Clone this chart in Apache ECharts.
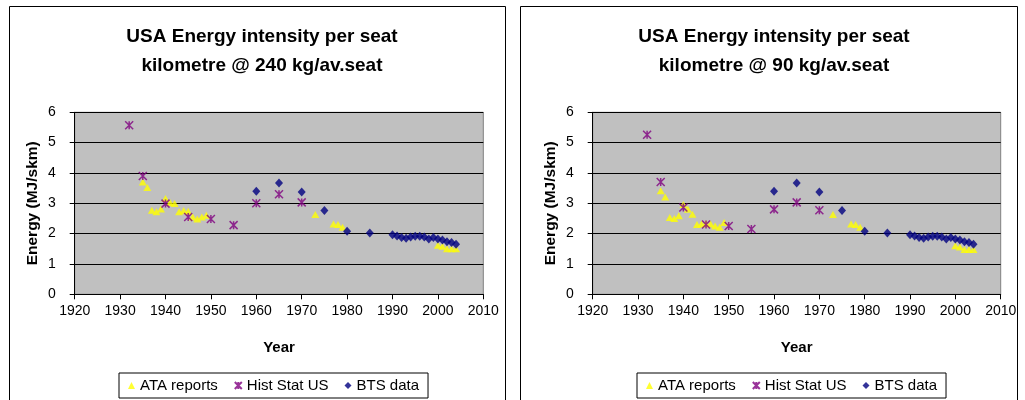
<!DOCTYPE html>
<html>
<head>
<meta charset="utf-8">
<script src="https://cdn.jsdelivr.net/npm/echarts@6/dist/echarts.min.js"></script>
<style>
html,body{margin:0;padding:0;background:#fff;}
#c{width:1025px;height:400px;}
</style>
</head>
<body>
<div id="c"></div>
<script>
// ---------- data ----------
var titles = ['USA Energy intensity per seat\nkilometre @ 240 kg/av.seat',
              'USA Energy intensity per seat\nkilometre @ 90 kg/av.seat'];
var seriesNames = ['ATA reports', 'Hist Stat US', 'BTS data'];
var xTitle = 'Year';
var yTitle = 'Energy (MJ/skm)';

var ataYears = [1935,1936,1937,1938,1939,1940,1941,1942,1943,1944,1945,1946,1947,1948,1949,1973,1977,1978,1979,2000,2001,2002,2003,2004];
var ata240 = [3.70,3.52,2.77,2.72,2.81,3.16,3.03,2.99,2.72,2.76,2.74,2.55,2.48,2.55,2.61,2.63,2.32,2.30,2.21,1.62,1.58,1.50,1.50,1.50];
var ata90  = [3.41,3.21,2.53,2.50,2.59,2.96,2.80,2.64,2.30,2.32,2.33,2.32,2.25,2.21,2.37,2.63,2.32,2.30,2.21,1.60,1.56,1.48,1.48,1.48];

var histYears = [1932,1935,1940,1945,1950,1955,1960,1965,1970];
var hist240 = [5.57,3.90,2.99,2.55,2.48,2.28,3.00,3.30,3.03];
var hist90  = [5.26,3.70,2.86,2.30,2.25,2.15,2.80,3.03,2.77];

var btsYears = [1960,1965,1970,1975,1980,1985,1990,1991,1992,1993,1994,1995,1996,1997,1998,1999,2000,2001,2002,2003,2004];
var btsVals  = [3.40,3.67,3.37,2.76,2.08,2.02,1.96,1.92,1.87,1.85,1.89,1.91,1.91,1.89,1.82,1.87,1.82,1.79,1.73,1.71,1.65];

// ---------- build ----------
function pairs(xs, ys){ return xs.map(function(x,i){ return [x, ys[i]]; }); }

var FONT = 'Liberation Sans, Arial, sans-serif';
var crossPath = 'path://M0,0L10,10M10,0L0,10M5,0L5,10';

var panels = [
  {cx: 257, left: 74.7, width: 408.6, ata: ata240, hist: hist240, legendLeft: 119},
  {cx: 769, left: 592.7, width: 408, ata: ata90, hist: hist90, legendLeft: 637}
];

var option = {
  backgroundColor: '#fff',
  animation: false,
  title: [], grid: [], xAxis: [], yAxis: [], legend: [], series: [],
  graphic: [
    {type:'rect', shape:{x:9.5, y:6.5, width:496, height:420}, style:{fill:'none', stroke:'#000', lineWidth:1}, silent:true},
    {type:'rect', shape:{x:520.5, y:6.5, width:497, height:420}, style:{fill:'none', stroke:'#000', lineWidth:1}, silent:true}
  ]
};

panels.forEach(function(p, i){
  option.title.push({
    text: titles[i], left: p.cx, top: 17, textAlign: 'center',
    textStyle: {fontFamily: FONT, fontSize: 19, fontWeight: 'bold', color: '#000', lineHeight: 29}
  });
  option.grid.push({
    left: p.left, top: 112.3, width: p.width, height: 182,
    show: true, backgroundColor: '#C0C0C0', borderColor: '#808080', borderWidth: 1
  });
  option.xAxis.push({
    type: 'value', gridIndex: i, min: 1920, max: 2010, interval: 10,
    name: xTitle, nameLocation: 'middle', nameGap: 46,
    nameTextStyle: {fontFamily: FONT, fontSize: 15, fontWeight: 'bold', color: '#000'},
    axisLine: {show: true, onZero: false, lineStyle: {color: '#000', width: 1}},
    axisTick: {show: true, length: 5, lineStyle: {color: '#000'}},
    axisLabel: {fontFamily: FONT, fontSize: 14, color: '#000', margin: 10,
                formatter: function(v){ return String(v); }},
    splitLine: {show: false}
  });
  option.yAxis.push({
    type: 'value', gridIndex: i, min: 0, max: 6, interval: 1,
    name: yTitle, nameLocation: 'middle', nameGap: 34, nameRotate: 90,
    nameTextStyle: {fontFamily: FONT, fontSize: 15.5, fontWeight: 'bold', color: '#000'},
    axisLine: {show: true, lineStyle: {color: '#000', width: 1}},
    axisTick: {show: true, length: 5, lineStyle: {color: '#000'}},
    axisLabel: {fontFamily: FONT, fontSize: 14, color: '#000', margin: 19},
    splitLine: {show: true, lineStyle: {color: '#000', width: 1}}
  });
  option.legend.push({
    left: p.legendLeft, top: 373, orient: 'horizontal',
    data: seriesNames.map(function(n){ return {name: n}; }),
    borderColor: '#000', borderWidth: 1, padding: [5, 9, 5, 9],
    itemGap: 16, itemWidth: 7, itemHeight: 7,
    textStyle: {fontFamily: FONT, fontSize: 15, color: '#000'},
    selectedMode: false
  });
  option.series.push({
    name: seriesNames[0], type: 'scatter', xAxisIndex: i, yAxisIndex: i,
    data: pairs(ataYears, p.ata), symbol: 'triangle', symbolSize: [8, 7],
    itemStyle: {color: '#FFFF00'}, z: 2
  });
  option.series.push({
    name: seriesNames[1], type: 'scatter', xAxisIndex: i, yAxisIndex: i,
    data: pairs(histYears, p.hist), symbol: crossPath, symbolSize: 8,
    itemStyle: {color: '#800080', borderColor: '#800080', borderWidth: 1.5}, z: 3
  });
  option.series.push({
    name: seriesNames[2], type: 'scatter', xAxisIndex: i, yAxisIndex: i,
    data: pairs(btsYears, btsVals), symbol: 'diamond', symbolSize: [8, 9],
    itemStyle: {color: '#000080'}, z: 4
  });
});

var chart = echarts.init(document.getElementById('c'), null, {renderer: 'canvas'});
chart.setOption(option);
</script>
</body>
</html>
